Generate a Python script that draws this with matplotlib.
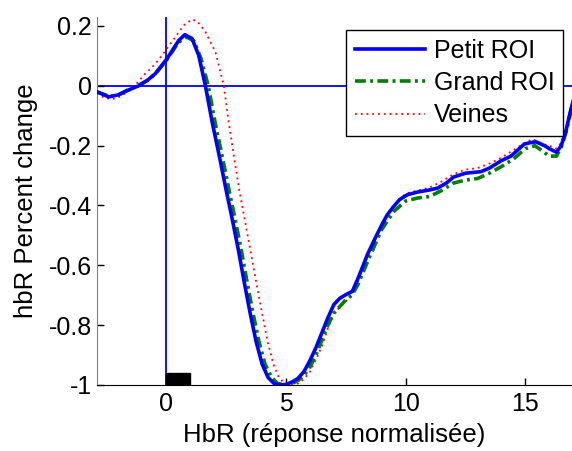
import matplotlib
matplotlib.use("Agg")
import matplotlib.pyplot as plt
from matplotlib.patches import Rectangle

# ---- data ----
petit_x = [-2.9, -2.41, -2.0, -1.58, -1.16, -0.8, -0.46, 0.03, 0.3, 0.52, 0.77, 1.07, 1.35, 1.63, 1.91,
           2.25, 2.5, 2.75, 3.0, 3.25, 3.5, 3.75, 4.0, 4.25, 4.5, 4.75, 5.0, 5.25, 5.5, 5.75, 6.0,
           6.25, 6.5, 6.75, 7.0, 7.25, 7.5, 7.77, 8.0, 8.25, 8.4, 8.75, 9.0, 9.23, 9.5, 9.75, 10.07,
           10.5, 11.0, 11.33, 11.7, 12.0, 12.5, 13.14, 13.5, 14.0, 14.4, 14.95, 15.2, 15.44, 15.8,
           16.0, 16.3, 16.5, 16.69, 16.9, 17.0]
petit_y = [-0.02, -0.037, -0.03, -0.014, 0.0, 0.018, 0.041, 0.091, 0.125, 0.152, 0.171, 0.158, 0.102, 0.0, -0.12,
           -0.25, -0.35, -0.445, -0.545, -0.655, -0.76, -0.855, -0.93, -0.975, -0.995, -1.0, -0.998, -0.99, -0.978, -0.955, -0.918,
           -0.875, -0.825, -0.775, -0.731, -0.71, -0.698, -0.687, -0.645, -0.595, -0.564, -0.505, -0.465, -0.431, -0.403, -0.38, -0.364,
           -0.355, -0.348, -0.342, -0.325, -0.305, -0.292, -0.287, -0.275, -0.25, -0.235, -0.195, -0.19, -0.187, -0.2,
           -0.21, -0.222, -0.2, -0.153, -0.08, -0.05]

grand_x = [-2.9, -2.4, -2.0, -1.6, -1.16, -0.8, -0.46, 0.0, 0.5, 0.85, 1.15, 1.45, 1.75, 2.03, 2.37, 2.62, 2.87,
           3.12, 3.37, 3.62, 3.87, 4.12, 4.4, 4.65, 4.95, 5.25, 5.5, 5.75, 6.0, 6.25, 6.5, 6.75, 7.0, 7.5, 7.75,
           8.0, 8.5, 9.0, 9.5, 10.0, 10.5, 11.0, 11.5, 12.0, 12.5, 13.0, 13.5, 14.0, 14.5, 15.0, 15.4, 15.75,
           16.0, 16.3, 16.5, 16.7, 16.9, 17.0]
grand_y = [-0.02, -0.035, -0.03, -0.013, 0.002, 0.018, 0.04, 0.085, 0.145, 0.163, 0.15, 0.09, 0.0, -0.12, -0.25, -0.35, -0.445,
           -0.545, -0.655, -0.76, -0.855, -0.93, -0.975, -0.995, -1.0, -0.995, -0.985, -0.968, -0.94, -0.9, -0.85, -0.8, -0.76, -0.715, -0.7,
           -0.665, -0.57, -0.48, -0.42, -0.385, -0.375, -0.37, -0.35, -0.325, -0.315, -0.31, -0.292, -0.27, -0.245, -0.21, -0.2, -0.22,
           -0.235, -0.235, -0.205, -0.155, -0.085, -0.055]

veines_x = [-2.9, -2.6, -2.27, -1.9, -1.44, -0.88, -0.5, -0.18, 0.3, 0.72, 1.07, 1.3, 1.63, 2.05, 2.4, 2.6, 2.85,
            3.05, 3.27, 3.5, 3.75, 4.0, 4.23, 4.47, 4.7, 4.95, 5.2, 5.5, 5.75, 6.0, 6.25, 6.5, 6.75, 7.0, 7.5,
            7.75, 8.0, 8.5, 9.0, 9.5, 10.0, 10.5, 11.0, 11.5, 12.0, 12.5, 13.0, 13.5, 14.0, 14.5, 15.0, 15.3,
            15.75, 16.0, 16.3, 16.5, 16.7, 16.9, 17.0]
veines_y = [-0.025, -0.04, -0.045, -0.035, -0.01, 0.041, 0.07, 0.102, 0.155, 0.202, 0.222, 0.215, 0.18, 0.113, 0.0, -0.12, -0.25,
            -0.35, -0.445, -0.545, -0.655, -0.76, -0.855, -0.93, -0.975, -0.995, -1.0, -0.995, -0.98, -0.955, -0.915, -0.87, -0.81, -0.76, -0.72,
            -0.7, -0.655, -0.55, -0.46, -0.4, -0.36, -0.35, -0.34, -0.32, -0.295, -0.28, -0.275, -0.26, -0.24, -0.215, -0.19, -0.178,
            -0.195, -0.2, -0.21, -0.19, -0.14, -0.075, -0.045]

series_labels = ["Petit ROI", "Grand ROI", "Veines"]
xticks = [0, 5, 10, 15]
yticks = [-1, -0.8, -0.6, -0.4, -0.2, 0, 0.2]
ytick_labels = ["-1", "-0.8", "-0.6", "-0.4", "-0.2", "0", "0.2"]
stim_start, stim_end, stim_height = 0, 1, 0.04
xlim = (-2.9, 16.95)
ylim = (-1.0, 0.23)

plt.rcParams['font.family'] = ['Liberation Sans', 'DejaVu Sans']

fig = plt.figure(figsize=(5.72, 4.51), dpi=100)
ax = fig.add_axes([97/572, 1-385/451, 1-97/572, (385-17)/451])

ax.axvline(0, color='#0000ff', lw=1.3, zorder=1)
ax.axhline(0, color='#0000ff', lw=1.3, zorder=1)
ax.add_patch(Rectangle((stim_start, ylim[0]), stim_end - stim_start, stim_height,
                       facecolor='black', edgecolor='black', zorder=2))

ax.plot(veines_x, veines_y, color='#ff0000', lw=1.3, linestyle=(0, (1, 2.2)), label=series_labels[2], zorder=3)
ax.plot(grand_x, grand_y, color='#007f00', lw=2.6, linestyle=(0, (3, 1.2, 0.8, 1.2)), label=series_labels[1], zorder=4)
ax.plot(petit_x, petit_y, color='#0000ff', lw=2.6, linestyle='-', label=series_labels[0], zorder=5)

ax.set_xlim(*xlim)
ax.set_ylim(*ylim)
ax.set_xticks(xticks)
ax.set_yticks(yticks)
ax.set_yticklabels(ytick_labels)
ax.tick_params(direction='in', length=5, width=1, labelsize=18)
ax.tick_params(axis='y', pad=3.5)
ax.tick_params(axis='x', pad=5)
ax.spines['top'].set_visible(False)
ax.spines['right'].set_visible(False)
ax.spines['left'].set_color('#808080')
ax.spines['bottom'].set_color('black')

ax.set_xlabel("HbR (réponse normalisée)", fontsize=18.5, labelpad=5)
ax.set_ylabel("hbR Percent change", fontsize=18.5, labelpad=8)

h, l = ax.get_legend_handles_labels()
order = [2, 1, 0]
leg = ax.legend([h[i] for i in order], [l[i] for i in order], loc='upper right',
                fontsize=18, fancybox=False, framealpha=1, edgecolor='black',
                handlelength=2.8, borderpad=0.35, labelspacing=0.33, handletextpad=0.35, borderaxespad=0)
leg.get_frame().set_linewidth(1.0)
leg.set_bbox_to_anchor((563/572, 1 - 30/451), transform=fig.transFigure)

fig.savefig("out.png", dpi=100)
